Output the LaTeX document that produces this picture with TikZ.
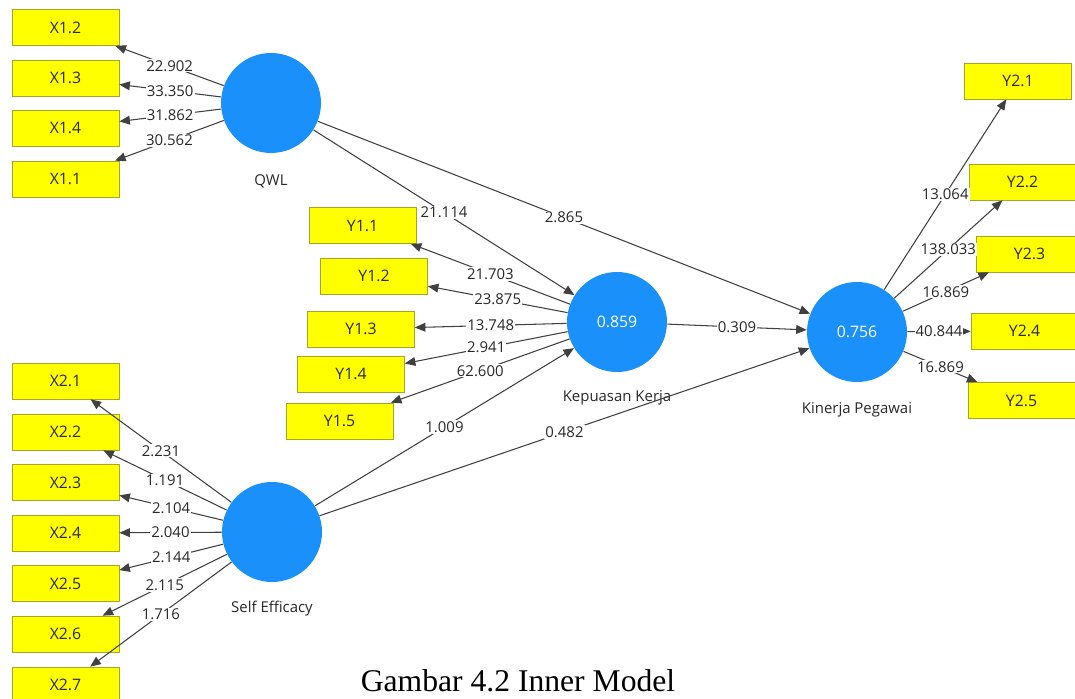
\documentclass[tikz,border=0pt]{standalone}
\usepackage{fontspec}
\setmainfont{Liberation Serif}
\newfontfamily\plsfont{Open Sans}
\usetikzlibrary{arrows.meta}
\definecolor{lvblue}{RGB}{26,144,250}
\definecolor{mvyellow}{RGB}{255,255,0}
\definecolor{mvborder}{RGB}{165,165,45}
\definecolor{plsgray}{RGB}{40,40,40}

\begin{document}
\begin{tikzpicture}[x=0.02cm,y=-0.02cm,
  mv/.style={draw=mvborder,fill=mvyellow,minimum width=2.14cm,minimum height=0.72cm,
    inner sep=0pt,text=plsgray,font=\plsfont\fontsize{9}{10}\selectfont},
  lv/.style={circle,fill=lvblue,minimum size=2cm,inner sep=0pt,text=white,
    font=\plsfont\fontsize{9}{10}\selectfont},
  lvname/.style={text=plsgray,font=\plsfont\fontsize{8.5}{10}\selectfont},
  link/.style={draw=black!75,line width=0.6pt,-{Triangle[length=6pt,width=5pt]}},
  coef/.style={fill=white,inner sep=0.6pt,text=plsgray,font=\plsfont\fontsize{8.5}{10}\selectfont}]
\useasboundingbox[fill=white] (0,0) rectangle (1075,699);

% latent variables
\node[lv] (qwl) at (271,103) {};
\node[lv] (kk) at (617,322) {0.859};
\node[lv] (kp) at (857,332) {0.756};
\node[lv] (se) at (272,532) {};
\node[lvname] (qwlname) at (271,181) {QWL};
\node[lvname] (kkname) at (617,398) {Kepuasan Kerja};
\node[lvname] (kpname) at (857,410) {Kinerja Pegawai};
\node[lvname] (sename) at (272,609) {Self Efficacy};

% indicators QWL
\node[mv] (x12) at (65.5,27.5) {X1.2};
\node[mv] (x13) at (65.5,78) {X1.3};
\node[mv] (x14) at (65.5,128) {X1.4};
\node[mv] (x11) at (65.5,179) {X1.1};

% indicators Kepuasan Kerja
\node[mv] (y11) at (362.5,225.5) {Y1.1};
\node[mv] (y12) at (374,276) {Y1.2};
\node[mv] (y13) at (361,329) {Y1.3};
\node[mv] (y14) at (351,374) {Y1.4};
\node[mv] (y15) at (339.5,421) {Y1.5};

% indicators Kinerja Pegawai
\node[mv] (y21) at (1018,81) {Y2.1};
\node[mv] (y22) at (1022.5,182) {Y2.2};
\node[mv] (y23) at (1029.5,254) {Y2.3};
\node[mv] (y24) at (1024.5,331) {Y2.4};
\node[mv] (y25) at (1021.5,400.5) {Y2.5};

% indicators Self Efficacy
\node[mv] (x21) at (65.5,381) {X2.1};
\node[mv] (x22) at (65.5,432) {X2.2};
\node[mv] (x23) at (65.5,482.5) {X2.3};
\node[mv] (x24) at (65.5,533) {X2.4};
\node[mv] (x25) at (65.5,583.5) {X2.5};
\node[mv] (x26) at (65.5,634) {X2.6};
\node[mv] (x27) at (65.5,685) {X2.7};

% outer model
\draw[link] (qwl) -- node[coef]{22.902} (x12);
\draw[link] (qwl) -- node[coef]{33.350} (x13);
\draw[link] (qwl) -- node[coef]{31.862} (x14);
\draw[link] (qwl) -- node[coef]{30.562} (x11);

\draw[link] (kk) -- node[coef]{21.703} (y11);
\draw[link] (kk) -- node[coef]{23.875} (y12);
\draw[link] (kk) -- node[coef]{13.748} (y13);
\draw[link] (kk) -- node[coef]{2.941} (y14);
\draw[link] (kk) -- node[coef]{62.600} (y15);

\draw[link] (kp) -- node[coef]{13.064} (y21);
\draw[link] (kp) -- node[coef]{138.033} (y22);
\draw[link] (kp) -- node[coef]{16.869} (y23);
\draw[link] (kp) -- node[coef]{40.844} (y24);
\draw[link] (kp) -- node[coef]{16.869} (y25);

\draw[link] (se) -- node[coef]{2.231} (x21);
\draw[link] (se) -- node[coef]{1.191} (x22);
\draw[link] (se) -- node[coef]{2.104} (x23);
\draw[link] (se) -- node[coef]{2.040} (x24);
\draw[link] (se) -- node[coef]{2.144} (x25);
\draw[link] (se) -- node[coef]{2.115} (x26);
\draw[link] (se) -- node[coef]{1.716} (x27);

% inner model
\draw[link] (qwl) -- node[coef]{21.114} (kk);
\draw[link] (qwl) -- node[coef]{2.865} (kp);
\draw[link] (kk) -- node[coef]{0.309} (kp);
\draw[link] (se) -- node[coef]{1.009} (kk);
\draw[link] (se) -- node[coef]{0.482} (kp);

\node (caption) at (518,681) {\fontsize{18}{20}\selectfont Gambar 4.2 Inner Model};
\end{tikzpicture}
\end{document}
